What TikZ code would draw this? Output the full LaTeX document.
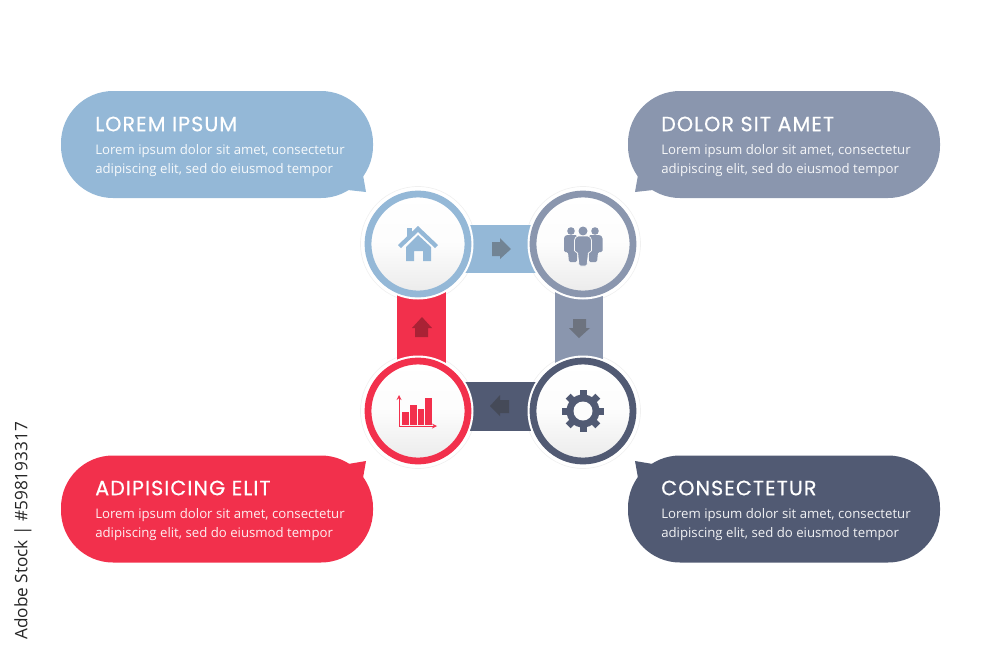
\documentclass[tikz,border=0pt]{standalone}
\usepackage{fontspec}
\setmainfont{Open Sans}
\newfontfamily\titlefont[LetterSpace=5,FakeBold=.5]{Poppins}
\definecolor{cblue}{HTML}{94B8D7}
\definecolor{cgrey}{HTML}{8A96AE}
\definecolor{cred}{HTML}{F2304C}
\definecolor{cdark}{HTML}{515A73}
\tikzset{
  hub/.style={circle,minimum size=75pt,inner sep=0pt,outer sep=0pt},
  ring/.style={circle,minimum size=75pt,inner sep=0pt,line width=5.1pt,top color=white,bottom color=black!8,middle color=black!1},
  halo/.style={white},
  haze/.style={draw=black!6,line width=.5pt},
  bar/.style={line width=36.5pt},
  bubble/.style={rectangle,rounded corners=39pt,minimum width=234pt,minimum height=80.25pt,inner sep=0pt},
  headline/.style={anchor=west,inner sep=0pt,white,font=\titlefont\fontsize{15.5}{17}\selectfont},
  blurb/.style={anchor=north west,inner sep=0pt,white,text opacity=.92,align=left,font=\fontsize{9.9}{14.6}\selectfont}
}
\begin{document}
\begin{tikzpicture}[x=.75pt,y=-.75pt]
\useasboundingbox (0,0) rectangle (1000,654);
% circles, placed first so that the bands can use them
\node[hub] (home) at (418,244) {};
\node[hub] (people) at (583,244) {};
\node[hub] (gear) at (583,411) {};
\node[hub] (chart) at (418,411) {};
\draw[haze] (home) circle (57.5);
\draw[haze] (people) circle (57.5);
\draw[haze] (gear) circle (57.5);
\draw[haze] (chart) circle (57.5);
% bands
\draw[bar,cblue] ([yshift=-3.75pt]home.center) -- ([yshift=-3.75pt]people.center);
\draw[bar,cgrey] ([xshift=-3pt]people.center) -- ([xshift=-3pt]gear.center);
\draw[bar,cdark] ([yshift=3.5pt]gear.center) -- ([yshift=3.5pt]chart.center);
\draw[bar,cred] ([xshift=2.6pt]chart.center) -- ([xshift=2.6pt]home.center);
\fill[halo] (home) circle (55.5);
\fill[halo] (people) circle (55.5);
\fill[halo] (gear) circle (55.5);
\fill[halo] (chart) circle (55.5);
\node[ring,draw=cblue] (homering) at (home) {};
\node[ring,draw=cgrey] (peoplering) at (people) {};
\node[ring,draw=cdark] (gearring) at (gear) {};
\node[ring,draw=cred] (chartring) at (chart) {};
% arrows on the bands
\fill[cblue!60!black!85] (492,242) -- (500,242) -- (500,238) -- (511,249) -- (500,259) -- (500,256) -- (492,256) -- cycle;
\fill[cgrey!60!black!85] (573,319) -- (586,319) -- (586,328) -- (590,328) -- (579,338) -- (569,328) -- (573,328) -- cycle;
\fill[cdark!60!black!90] (509,400) -- (509,413) -- (500,413) -- (500,416) -- (490,406) -- (500,395) -- (500,400) -- cycle;
\fill[cred!70!black] (415,337) -- (428,337) -- (428,328) -- (432,328) -- (422,317) -- (412,328) -- (415,328) -- cycle;
% house
\fill[cblue] (407,228) rectangle (412,238);
\fill[cblue] (398,245) -- (418,226) -- (438,245) -- (435,248) -- (418,232) -- (401,248) -- cycle;
\fill[cblue] (418,235) -- (431,247) -- (431,261) -- (423,261) -- (423,251) -- (414,251) -- (414,261) -- (406,261) -- (406,247) -- cycle;
% people
\fill[cgrey] (571,231) circle (3.8);
\fill[cgrey] (595,231) circle (3.8);
\fill[cgrey,rounded corners=1] (564,237) -- (566,235) -- (577,235) -- (577,262) -- (569,262) -- (568,252) -- (564,252) -- cycle;
\fill[cgrey,rounded corners=1] (589,235) -- (600,235) -- (602.5,237) -- (602.5,252) -- (598,252) -- (597,262) -- (589,262) -- cycle;
\fill[cgrey] (583,231) circle (4.5);
\filldraw[cgrey,draw=black!3,line width=.6pt,rounded corners=1] (574.5,239) -- (577,236) -- (589,236) -- (591.5,239) -- (591.5,252) -- (588.5,252) -- (587,266) -- (579,266) -- (577.5,252) -- (574.5,252) -- cycle;
% gear
\foreach \a in {0,45,...,315}
  \fill[cdark,rotate around={\a:(583,411)}] (579.5,390) rectangle (586.5,400);
\fill[cdark] (583,411) circle (16.5);
\fill[black!1] (583,411) circle (9.5);
% chart
\draw[cred,line width=.7pt,->,>=stealth] (399,426) -- (399,395);
\draw[cred,line width=.7pt,->,>=stealth] (399,426) -- (437,426);
\fill[cred] (402,412) rectangle (409,425);
\fill[cred] (410,405) rectangle (417,425);
\fill[cred] (418,409) rectangle (424,425);
\fill[cred] (425,398) rectangle (432,425);
% bubbles
\node[bubble,fill=cblue] (lorem) at (217,144.5) {};
\fill[cblue] (363,175) -- (366,192) -- (348,190) -- cycle;
\node[bubble,fill=cgrey] (dolor) at (784,144.5) {};
\fill[cgrey] (638,175) -- (635,192) -- (653,190) -- cycle;
\node[bubble,fill=cred] (adipiscing) at (217,509) {};
\fill[cred] (363,478) -- (366,461) -- (348,464) -- cycle;
\node[bubble,fill=cdark] (consectetur) at (784,509) {};
\fill[cdark] (638,478) -- (635,461) -- (653,464) -- cycle;
% texts
\node[headline] (t1) at (95,124) {LOREM IPSUM};
\node[blurb] (b1) at (95,144) {Lorem ipsum dolor sit amet, consectetur\\adipiscing elit, sed do eiusmod tempor};
\node[headline] (t2) at (661,124) {DOLOR SIT AMET};
\node[blurb] (b2) at (661,144) {Lorem ipsum dolor sit amet, consectetur\\adipiscing elit, sed do eiusmod tempor};
\node[headline] (t3) at (95,488) {ADIPISICING ELIT};
\node[blurb] (b3) at (95,508) {Lorem ipsum dolor sit amet, consectetur\\adipiscing elit, sed do eiusmod tempor};
\node[headline] (t4) at (661,488) {CONSECTETUR};
\node[blurb] (b4) at (661,508) {Lorem ipsum dolor sit amet, consectetur\\adipiscing elit, sed do eiusmod tempor};
% side line
\node[rotate=90,anchor=west,inner sep=0pt,text=black!85,font=\fontsize{12.9}{14}\selectfont] (stock) at (23,640) {Adobe Stock | \#598193317};
\end{tikzpicture}
\end{document}
